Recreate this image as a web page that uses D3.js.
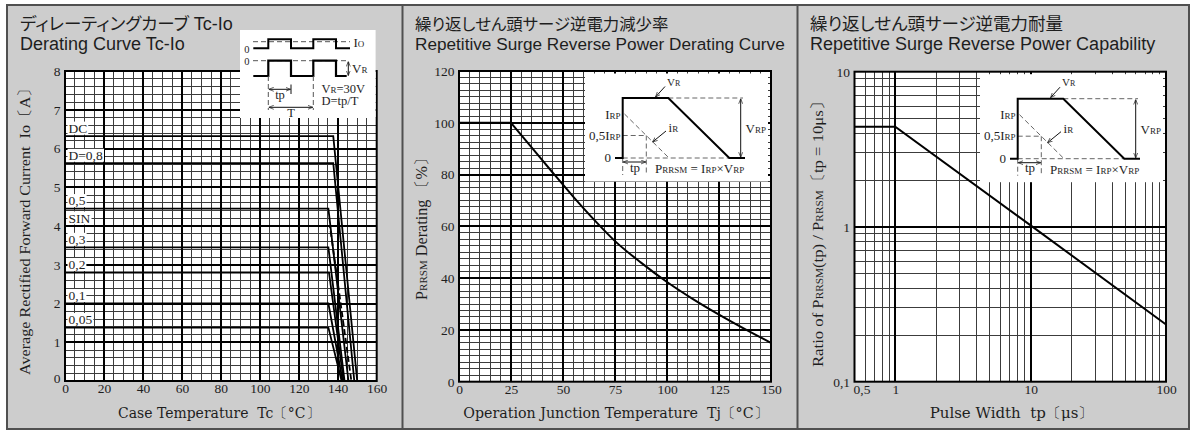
<!DOCTYPE html>
<html><head><meta charset="utf-8">
<script src="https://cdn.jsdelivr.net/npm/d3@7/dist/d3.min.js"></script>
<style>
html,body{margin:0;padding:0;background:#fff;}
svg{display:block;}
text{white-space:pre;}
</style></head>
<body><svg id="chart" width="1191" height="430"></svg>
<script>
// ---------------- data ----------------
const p1XTicks=[0,20,40,60,80,100,120,140,160];
const p1YTicks=[0,1,2,3,4,5,6,7,8];
const p1Labels=["DC","D=0,8","0,5","SIN","0,3","0,2","0,1","0,05"];
const p1Levels=[6.32,5.62,4.45,4.0,3.45,2.8,2.0,1.38];
const p1KneeTc=[137.7,137.7,135.2,136.0,135.2,135.5,135.2,135.2];
const p1ZeroTc=[150,148.5,145.5,147,143.5,143,142.5,142];
const p1Dashed=[false,false,false,true,false,false,false,false];

const p2XTicks=[0,25,50,75,100,125,150];
const p2YTicks=[0,20,40,60,80,100,120];
const p2Tj=[0,25,35,45,55,65,75,87.5,100,112.5,125,137.5,150];
const p2Derating=[100,100,90.4,80.8,71.4,62.5,54.3,46.0,38.5,31.9,25.9,20.3,15];

const p3XTicks=[0.5,1,10,100];
const p3XTickLabels=["0,5","1","10","100"];
const p3YTicks=[0.1,1,10];
const p3YTickLabels=["0,1","1","10"];
const p3Tp=[0.5,1,10,100];
const p3Ratio=[4.42,4.42,1.02,0.234];

const titlesJa=["ディレーティングカーブ","繰り返しせん頭サージ逆電力減少率","繰り返しせん頭サージ逆電力耐量"];
const titlesEn=["Derating Curve Tc-Io","Repetitive Surge Reverse Power Derating Curve","Repetitive Surge Reverse Power Capability"];

// ---------------- setup ----------------
const SERIF='"Liberation Serif","DejaVu Serif",serif';
const WSERIF='"DejaVu Serif","Liberation Serif",serif';
const SANS='"Liberation Sans",Arial,sans-serif';
const JP='"Noto Sans CJK JP",sans-serif';
const INK="#1e1e1e";

const svg=d3.select("#chart");
const defs=svg.append("defs");
defs.append("marker").attr("id","ah").attr("viewBox","0 0 10 10").attr("refX",10).attr("refY",5)
  .attr("markerWidth",5).attr("markerHeight",5).attr("markerUnits","userSpaceOnUse").attr("orient","auto-start-reverse")
  .append("path").attr("d","M0,1 L10,5 L0,9").attr("fill","none").attr("stroke","#222").attr("stroke-width",1.4);

svg.append("rect").attr("width",1191).attr("height",430).attr("fill","#fff");
svg.append("rect").attr("x",7).attr("y",5).attr("width",1182).attr("height",424)
  .attr("fill","#cdcdcd").attr("stroke","#505050").attr("stroke-width",2);
[402.5,797.5].forEach(x=>svg.append("line").attr("x1",x).attr("x2",x).attr("y1",5).attr("y2",430)
  .attr("stroke","#505050").attr("stroke-width",2));

// titles
const jaSize=[17.5,16.4,17.5], enSize=[18,17.2,18];
[20,415,810].forEach((x,i)=>{
  const t=svg.append("text").attr("x",x).attr("y",29.5).attr("fill",INK).attr("font-size",jaSize[i]);
  t.append("tspan").attr("font-family",JP).style("font-feature-settings","'palt'").text(titlesJa[i]);
  if(i===0) t.append("tspan").attr("font-family",SANS).attr("font-size",18).text(" Tc-Io");
  svg.append("text").attr("x",x).attr("y",50).attr("font-family",SANS).attr("font-size",enSize[i]).attr("fill",INK).text(titlesEn[i]);
});

function rich(sel,parts){
  parts.forEach(p=>{
    const ts=sel.append("tspan").text(p[0]);
    if(p[1]) ts.attr("font-size",p[1]);
    if(p[2]) ts.attr("font-style","italic");
  });
  return sel;
}
function drawGrid(g,xs,ys,box,xMinor,xMajor,yMinor,yMajor){
  g.append("rect").attr("x",box.x0).attr("y",box.y0).attr("width",box.x1-box.x0).attr("height",box.y1-box.y0).attr("fill","#fff");
  const gg=g.append("g").attr("shape-rendering","crispEdges");
  const v=(arr,w,c)=>gg.append("g").selectAll("line").data(arr).join("line")
     .attr("x1",d=>xs(d)).attr("x2",d=>xs(d)).attr("y1",box.y0).attr("y2",box.y1).attr("stroke",c).attr("stroke-width",w);
  const h=(arr,w,c)=>gg.append("g").selectAll("line").data(arr).join("line")
     .attr("y1",d=>ys(d)).attr("y2",d=>ys(d)).attr("x1",box.x0).attr("x2",box.x1).attr("stroke",c).attr("stroke-width",w);
  v(xMinor,1,"#3c3c3c"); h(yMinor,1,"#3c3c3c");
  v(xMajor,2,"#000"); h(yMajor,2,"#000");
}
function frame(g,box){
  g.append("rect").attr("x",box.x0).attr("y",box.y0).attr("width",box.x1-box.x0).attr("height",box.y1-box.y0)
   .attr("fill","none").attr("stroke","#000").attr("stroke-width",2);
}
function axes(g,xs,ys,box,xt,yt,xfmt,yfmt){
  const ax=g.append("g").attr("transform",`translate(0,${box.y1})`)
    .call(d3.axisBottom(xs).tickValues(xt).tickSize(0).tickPadding(2.5).tickFormat(xfmt));
  ax.select(".domain").remove();
  ax.attr("font-family",SERIF).attr("font-size",13.5).selectAll("text").attr("fill",INK);
  const ay=g.append("g").attr("transform",`translate(${box.x0},0)`)
    .call(d3.axisLeft(ys).tickValues(yt).tickSize(0).tickPadding(4.5).tickFormat(yfmt));
  ay.select(".domain").remove();
  ay.attr("font-family",SERIF).attr("font-size",13.5).selectAll("text").attr("fill",INK);
  return [ax,ay];
}
function dline(g,x1,y1,x2,y2,col){
  return g.append("line").attr("x1",x1).attr("y1",y1).attr("x2",x2).attr("y2",y2)
    .attr("stroke",col||"#555").attr("stroke-width",1).attr("stroke-dasharray","5,3");
}
function sline(g,x1,y1,x2,y2,w){
  return g.append("line").attr("x1",x1).attr("y1",y1).attr("x2",x2).attr("y2",y2)
    .attr("stroke","#111").attr("stroke-width",w||1);
}
function txt(g,x,y,anchor,size,fam){
  return g.append("text").attr("x",x).attr("y",y).attr("text-anchor",anchor||"start")
    .attr("font-family",fam||SERIF).attr("font-size",size||13).attr("fill",INK);
}
function fit(sel,len){ return sel.attr("textLength",len).attr("lengthAdjust","spacingAndGlyphs"); }

// ================= Panel 1 =================
const B1={x0:65,x1:376.7,y0:71,y1:381};
const x1=d3.scaleLinear([0,160],[B1.x0,B1.x1]);
const y1=d3.scaleLinear([0,8],[B1.y1,B1.y0]);
const g1=svg.append("g");
drawGrid(g1,x1,y1,B1,d3.range(5,160,5),d3.range(20,160,20),d3.range(0.2,8,0.2),d3.range(1,8,1));
const line1=d3.line().x(d=>x1(d[0])).y(d=>y1(d[1]));
p1Levels.forEach((lv,i)=>{
  g1.append("path").attr("d",line1([[0,lv],[p1KneeTc[i],lv],[p1ZeroTc[i],0]]))
    .attr("fill","none").attr("stroke","#000").attr("stroke-width",1.8)
    .attr("stroke-dasharray",p1Dashed[i]?"6,3":null);
});
p1Levels.forEach((lv,i)=>{
  const t=txt(g1,x1(0)+3.5,y1(lv)-3.5,"start",13.5).text(p1Labels[i]);
  const bb=t.node().getBBox();
  g1.insert("rect",()=>t.node()).attr("x",bb.x-1).attr("y",bb.y+1).attr("width",bb.width+2).attr("height",bb.height-2).attr("fill","#fff");
});
frame(g1,B1);
const [ax1,ay1]=axes(g1,x1,y1,B1,p1XTicks,p1YTicks,d=>d,d=>d);
ay1.selectAll("text").filter(d=>d===0).attr("dy","0.1em");
fit(txt(g1,219,418,"middle",14.5,WSERIF).text("Case Temperature  Tc〔°C〕"),202);
fit(txt(g1,0,0,"middle",15.5).attr("transform","translate(29.5,227.5) rotate(-90)").text("Average Rectified Forward Current  Io〔A〕"),295);

// Panel 1 inset (pulse diagram)
(function(){
  const g=svg.append("g");
  g.append("rect").attr("x",240).attr("y",30).attr("width",135.6).attr("height",88).attr("fill","#fff");
  dline(g,253,41.7,350,41.7);
  dline(g,253,60.7,348,60.7);
  g.append("path").attr("d","M253.3,48.3H268.3V39.3H291V48.3H313.3V39.3H336V48.3H350")
    .attr("fill","none").attr("stroke","#000").attr("stroke-width",2);
  g.append("path").attr("d","M253.3,76H268.3V60.7H291V76H313.3V60.7H336V76H346.7")
    .attr("fill","none").attr("stroke","#000").attr("stroke-width",2.2);
  sline(g,348.3,61.5,348.3,75.5).attr("marker-start","url(#ah)").attr("marker-end","url(#ah)");
  dline(g,268.3,76,268.3,110);
  dline(g,313.3,76,313.3,110);
  sline(g,291,84.5,291,94);
  sline(g,268.8,89.3,290.5,89.3).attr("marker-start","url(#ah)").attr("marker-end","url(#ah)");
  sline(g,268.8,107.3,312.8,107.3).attr("marker-start","url(#ah)").attr("marker-end","url(#ah)");
  txt(g,249.5,52.8,"end",10.5).text("0");
  txt(g,249.5,64.8,"end",10.5).text("0");
  rich(txt(g,353.5,46.7,"start",13),[["I"],["O",9]]);
  rich(txt(g,352,73,"start",13),[["V"],["R",9]]);
  rich(txt(g,321.5,92.5,"start",12.5),[["V"],["R",9],["=30V"]]);
  txt(g,321.5,104.5,"start",12.5).text("D=tp/T");
  txt(g,280,98.5,"middle",12.5).text("tp");
  txt(g,291,117,"middle",12.5).text("T");
})();

// ================= Panel 2 =================
const B2={x0:459,x1:771,y0:71,y1:381.7};
const x2=d3.scaleLinear([0,150],[B2.x0,B2.x1]);
const y2=d3.scaleLinear([0,120],[B2.y1,B2.y0]);
const g2=svg.append("g");
drawGrid(g2,x2,y2,B2,d3.range(5,150,5),d3.range(25,150,25),d3.range(2.5,120,2.5),d3.range(20,120,20));
const pts2=p2Tj.map((t,i)=>[t,p2Derating[i]]);
g2.append("path").attr("d",d3.line().x(d=>x2(d[0])).y(d=>y2(d[1]))(pts2.slice(0,2)))
  .attr("fill","none").attr("stroke","#000").attr("stroke-width",2);
g2.append("path").attr("d",d3.line().curve(d3.curveMonotoneX).x(d=>x2(d[0])).y(d=>y2(d[1]))(pts2.slice(1)))
  .attr("fill","none").attr("stroke","#000").attr("stroke-width",2);

// ================= Panel 3 =================
const B3={x0:854.5,x1:1166,y0:71.7,y1:381.7};
const x3=d3.scaleLog([0.5,100],[B3.x0,B3.x1]);
const y3=d3.scaleLog([0.1,10],[B3.y1,B3.y0]);
const g3=svg.append("g");
const logMinor=(lo,hi)=>{const out=[];for(let e=-1;e<=2;e++){for(let m=1;m<10;m++){const v=m*Math.pow(10,e);if(v>lo*1.0001&&v<hi*0.9999)out.push(+v.toPrecision(3));}}return out;};
drawGrid(g3,x3,y3,B3,logMinor(0.5,100).filter(v=>v!==1&&v!==10),[1,10],logMinor(0.1,10).filter(v=>v!==1),[1]);
g3.append("path").attr("d",d3.line().x(d=>x3(d[0])).y(d=>y3(d[1]))(p3Tp.map((t,i)=>[t,p3Ratio[i]])))
  .attr("fill","none").attr("stroke","#000").attr("stroke-width",2);

// surge inset (panels 2 & 3)
function surgeInset(g,ox,oy,right){
  const X=v=>ox+v, Y=v=>oy+v;
  g.append("rect").attr("x",ox).attr("y",oy+2.5).attr("width",right-3-ox).attr("height",108).attr("fill","#fff");
  const zeroY=87, topY=27, halfY=64.5, riseX=37.7, topEnd=83.3, fallEnd=144.3, halfX=61.3;
  dline(g,X(topEnd),Y(topY),X(158),Y(topY),"#666");
  dline(g,X(riseX),Y(zeroY),X(fallEnd),Y(zeroY),"#666");
  dline(g,X(39.5),Y(43),X(84),Y(zeroY),"#666");
  dline(g,X(riseX),Y(halfY),X(halfX),Y(halfY),"#666");
  dline(g,X(halfX),Y(halfY),X(halfX),Y(104),"#666");
  dline(g,X(riseX),Y(zeroY),X(riseX),Y(104),"#666");
  g.append("path").attr("d",`M${X(30)},${Y(zeroY)}H${X(riseX)}V${Y(topY)}H${X(topEnd)}L${X(fallEnd)},${Y(zeroY)}H${X(160)}`)
    .attr("fill","none").attr("stroke","#000").attr("stroke-width",2);
  sline(g,X(155.7),Y(topY+0.8),X(155.7),Y(zeroY-0.8)).attr("marker-start","url(#ah)").attr("marker-end","url(#ah)");
  sline(g,X(riseX+0.5),Y(91),X(halfX-0.5),Y(91)).attr("marker-start","url(#ah)").attr("marker-end","url(#ah)");
  sline(g,X(80),Y(15.5),X(70.5),Y(26)).attr("marker-end","url(#ah)");
  sline(g,X(81),Y(60),X(67.5),Y(71)).attr("marker-end","url(#ah)");
  rich(txt(g,X(82),Y(14.5),"start",11),[["V"],["R",8]]);
  rich(txt(g,X(35.5),Y(47.5),"end",13),[["I"],["RP",9]]);
  rich(txt(g,X(35.5),Y(68.5),"end",13),[["0,5I"],["RP",9]]);
  txt(g,X(26),Y(91),"end",13).text("0");
  rich(txt(g,X(83.5),Y(61),"start",13),[["i"],["R",9]]);
  rich(txt(g,X(160.5),Y(62),"start",13),[["V"],["RP",9]]);
  txt(g,X(50),Y(100.5),"middle",13).text("tp");
  rich(txt(g,X(70),Y(102),"start",13),[["P"],["RRSM",9],[" = I"],["RP",9],["×V"],["RP",9]]);
}
surgeInset(g2,585,B2.y0,B2.x1);
surgeInset(g3,980,B3.y0,B3.x1);

frame(g2,B2); frame(g3,B3);
axes(g2,x2,y2,B2,p2XTicks,p2YTicks,d=>d,d=>d);
const [ax3,ay3]=axes(g3,x3,y3,B3,p3XTicks,p3YTicks,(d,i)=>p3XTickLabels[i],(d,i)=>p3YTickLabels[i]);
ax3.selectAll("text").filter(d=>d===0.5).attr("dx",7);

fit(txt(g2,615.8,418,"middle",14.5,WSERIF).text("Operation Junction Temperature  Tj〔°C〕"),305);
fit(rich(txt(g2,0,0,"middle",16).attr("transform","translate(426.5,225) rotate(-90)"),[["P"],["RRSM",11],[" Derating 〔%〕"]]),150);
txt(g3,1011.5,418,"middle",15,WSERIF).text("Pulse Width  tp〔μs〕");
fit(rich(txt(g3,0,0,"middle",15.5).attr("transform","translate(822.5,230) rotate(-90)"),
  [["Ratio of P"],["RRSM",10.5],["(tp) / P"],["RRSM",10.5],["〔tp = 10μs〕"]]),274);
</script>
</body></html>
